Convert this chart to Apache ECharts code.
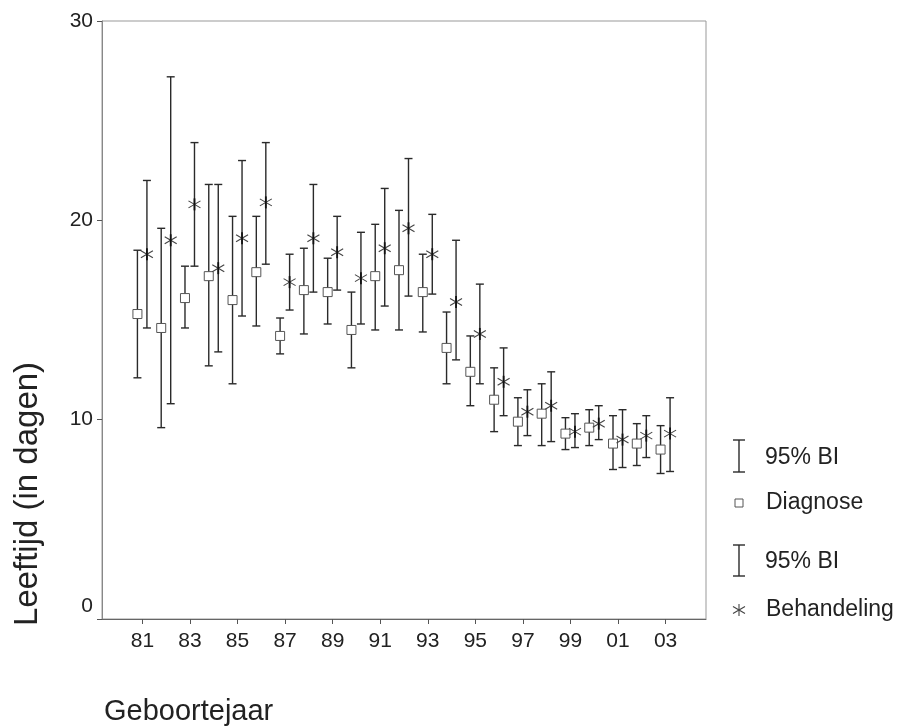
<!DOCTYPE html>
<html>
<head>
<meta charset="utf-8">
<script src="https://cdn.jsdelivr.net/npm/echarts@6/dist/echarts.min.js"></script>
<style>
html, body { margin: 0; padding: 0; background: #fff; }
#chart { width: 902px; height: 726px; }
</style>
</head>
<body>
<div id="chart"></div>
<script>
var years = ['81','82','83','84','85','86','87','88','89','90','91','92','93','94','95','96','97','98','99','00','01','02','03'];

// Diagnose: gemiddelde en 95% BI
var diagMean = [15.3, 14.6, 16.1, 17.2, 16.0, 17.4, 14.2, 16.5, 16.4, 14.5, 17.2, 17.5, 16.4, 13.6, 12.4, 11.0, 9.9, 10.3, 9.3, 9.6, 8.8, 8.8, 8.5];
var diagLow  = [12.1, 9.6, 14.6, 12.7, 11.8, 14.7, 13.3, 14.3, 14.8, 12.6, 14.5, 14.5, 14.4, 11.8, 10.7, 9.4, 8.7, 8.7, 8.5, 8.7, 7.5, 7.7, 7.3];
var diagHigh = [18.5, 19.6, 17.7, 21.8, 20.2, 20.2, 15.1, 18.6, 18.1, 16.4, 19.8, 20.5, 18.3, 15.4, 14.2, 12.6, 11.1, 11.8, 10.1, 10.5, 10.2, 9.8, 9.7];

// Behandeling: gemiddelde en 95% BI
var behMean = [18.3, 19.0, 20.8, 17.6, 19.1, 20.9, 16.9, 19.1, 18.4, 17.1, 18.6, 19.6, 18.3, 15.9, 14.3, 11.9, 10.4, 10.7, 9.4, 9.8, 9.0, 9.2, 9.3];
var behLow  = [14.6, 10.8, 17.7, 13.4, 15.2, 17.8, 15.5, 16.4, 16.5, 14.8, 15.7, 16.2, 16.3, 13.0, 11.8, 10.2, 9.2, 8.9, 8.6, 9.0, 7.6, 8.1, 7.4];
var behHigh = [22.0, 27.2, 23.9, 21.8, 23.0, 23.9, 18.3, 21.8, 20.2, 19.4, 21.6, 23.1, 20.3, 19.0, 16.8, 13.6, 11.5, 12.4, 10.3, 10.7, 10.5, 10.2, 11.1];

var yTicks = [0, 10, 20, 30];

var FONT = '"Liberation Sans", Arial, Helvetica, sans-serif';
var INK = '#2a2a2a';

function rows(mean, low, high) {
	return mean.map(function (m, i) { return [i, m, low[i], high[i]]; });
}

// foutbalk met markering, dx = verschuiving in pixels
function errorBar(dx, marker) {
	return function (params, api) {
		var mid = api.coord([api.value(0), api.value(1)]);
		var lo = api.coord([api.value(0), api.value(2)]);
		var hi = api.coord([api.value(0), api.value(3)]);
		var x = mid[0] + dx, y = mid[1], cap = 4;
		var st = { stroke: INK, lineWidth: 1.4 };
		var kids = [
			{ type: 'line', shape: { x1: x, y1: lo[1], x2: x, y2: hi[1] }, style: st },
			{ type: 'line', shape: { x1: x - cap, y1: hi[1], x2: x + cap, y2: hi[1] }, style: st },
			{ type: 'line', shape: { x1: x - cap, y1: lo[1], x2: x + cap, y2: lo[1] }, style: st }
		];
		if (marker === 'square') {
			kids.push({ type: 'rect', shape: { x: x - 4.5, y: y - 4.5, width: 9, height: 9 },
				style: { fill: '#fff', stroke: '#555', lineWidth: 1 } });
		} else {
			var ast = { stroke: '#444', lineWidth: 1.1 };
			kids.push({ type: 'line', shape: { x1: x - 6, y1: y - 3.5, x2: x + 6, y2: y + 3.5 }, style: ast });
			kids.push({ type: 'line', shape: { x1: x - 6, y1: y + 3.5, x2: x + 6, y2: y - 3.5 }, style: ast });
			kids.push({ type: 'line', shape: { x1: x, y1: y - 6, x2: x, y2: y + 6 }, style: { stroke: '#111', lineWidth: 1.8 } });
		}
		return { type: 'group', children: kids };
	};
}

function ibeam(x, y1, y2) {
	var st = { stroke: INK, lineWidth: 1.4 };
	return [
		{ type: 'line', shape: { x1: x, y1: y1, x2: x, y2: y2 }, style: st },
		{ type: 'line', shape: { x1: x - 6, y1: y1, x2: x + 6, y2: y1 }, style: st },
		{ type: 'line', shape: { x1: x - 6, y1: y2, x2: x + 6, y2: y2 }, style: st }
	];
}

function label(txt, x, y) {
	return { type: 'text', x: x, y: y, style: { text: txt, font: '23px ' + FONT, fill: '#222', align: 'left', verticalAlign: 'middle' } };
}

var legendEls = []
	.concat(ibeam(739, 440, 472))
	.concat([label('95% BI', 765, 458)])
	.concat([{ type: 'rect', shape: { x: 735, y: 499, width: 8, height: 8 }, style: { fill: '#fff', stroke: '#555', lineWidth: 1 } }])
	.concat([label('Diagnose', 766, 503)])
	.concat(ibeam(739, 545, 576))
	.concat([label('95% BI', 765, 562)])
	.concat([
		{ type: 'line', shape: { x1: 733, y1: 606.5, x2: 745, y2: 613.5 }, style: { stroke: '#444', lineWidth: 1.1 } },
		{ type: 'line', shape: { x1: 733, y1: 613.5, x2: 745, y2: 606.5 }, style: { stroke: '#444', lineWidth: 1.1 } },
		{ type: 'line', shape: { x1: 739, y1: 604, x2: 739, y2: 616 }, style: { stroke: '#444', lineWidth: 1.1 } }
	])
	.concat([label('Behandeling', 766, 610)]);

var xTickIdx = years.map(function (y, i) { return i; }).filter(function (i) { return i % 2 === 0; });

var chart = echarts.init(document.getElementById('chart'));
chart.setOption({
	backgroundColor: '#fff',
	animation: false,
	grid: { left: 102, right: 196, top: 21, bottom: 107, show: true, borderColor: '#999', borderWidth: 1 },
	xAxis: {
		type: 'value',
		min: -1.7,
		max: 23.7,
		splitLine: { show: false },
		axisLine: { onZero: false, lineStyle: { color: '#666', width: 1 } },
		axisTick: { length: 5, lineStyle: { color: '#555' }, customValues: xTickIdx },
		axisLabel: { fontSize: 21, fontFamily: FONT, color: '#222', margin: 12,
			customValues: xTickIdx,
			formatter: function (v) { return years[Math.round(v)]; } }
	},
	yAxis: {
		type: 'value',
		min: 0,
		max: 30,
		interval: 10,
		splitLine: { show: false },
		axisLine: { show: true, onZero: false, lineStyle: { color: '#888', width: 1 } },
		axisTick: { show: true, length: 5, lineStyle: { color: '#555' } },
		axisLabel: { fontSize: 21, fontFamily: FONT, color: '#222', margin: 9,
			customValues: yTicks,
			formatter: function (v) { return v === 0 ? '{z|0}' : String(v); },
			rich: { z: { fontSize: 21, fontFamily: FONT, color: '#222', padding: [0, 0, 25, 0] } } }
	},
	series: [
		{ name: 'Diagnose', type: 'custom', renderItem: errorBar(-5, 'square'), data: rows(diagMean, diagLow, diagHigh) },
		{ name: 'Behandeling', type: 'custom', renderItem: errorBar(4.5, 'star'), data: rows(behMean, behLow, behHigh) }
	],
	graphic: [
		{ type: 'text', x: 104, y: 712, style: { text: 'Geboortejaar', font: '29px ' + FONT, fill: '#222', align: 'left', verticalAlign: 'middle' } },
		{ type: 'text', x: 28, y: 494, rotation: Math.PI / 2, style: { text: 'Leeftijd (in dagen)', font: '33px ' + FONT, fill: '#222', align: 'center', verticalAlign: 'middle' } },
		{ type: 'group', children: legendEls }
	]
});
</script>
</body>
</html>
